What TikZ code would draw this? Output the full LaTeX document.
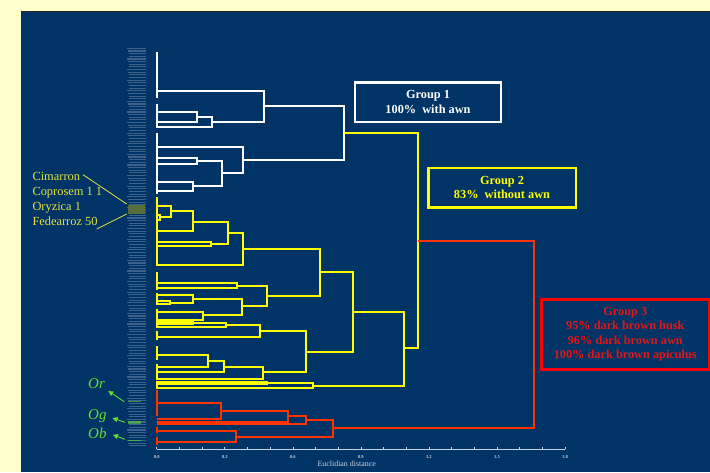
\documentclass[tikz,border=0pt]{standalone}
\usepackage{fontspec}
\setmainfont{Liberation Serif}
\usetikzlibrary{arrows.meta}
\definecolor{bgyel}{RGB}{255,255,204}
\definecolor{panel}{RGB}{0,51,102}
\definecolor{dyel}{RGB}{255,255,0}
\definecolor{dred}{RGB}{255,51,0}
\definecolor{gred}{RGB}{228,22,22}
\definecolor{bred}{RGB}{255,0,0}
\definecolor{lgreen}{RGB}{102,221,51}
\definecolor{labyel}{RGB}{228,228,60}
\definecolor{axisc}{RGB}{205,212,225}
\definecolor{olivelab}{RGB}{88,110,62}
\begin{document}
\begin{tikzpicture}[x=1pt,y=-1pt,
  wl/.style={white,line width=2pt},
  yl/.style={dyel,line width=2pt},
  rl/.style={dred,line width=2pt},
  gbox/.style={line width=2.4pt,align=center,font=\fontsize{12.3}{14.6}\selectfont\bfseries,inner sep=0pt},
  lab/.style={anchor=base west,text=labyel,font=\fontsize{12.4}{14}\selectfont,inner sep=0pt},
  sp/.style={anchor=base west,text=lgreen,font=\fontsize{15}{16}\selectfont\itshape,inner sep=0pt},
  sparrow/.style={lgreen,line width=0.9pt,-{Triangle[width=5pt,length=5pt]}},
  ticklab/.style={text=axisc,font=\fontsize{4.6}{5}\selectfont\bfseries,inner sep=0pt}]
\useasboundingbox (0,0) rectangle (710,472);
\fill[bgyel] (0,0) rectangle (710,472);
\fill[panel] (21,11) rectangle (710,472);
\draw[black!85,line width=1pt] (21.5,472) -- (21.5,11.5) -- (710,11.5);

% leaf label column
\foreach \i in {0,...,150} {
  \pgfmathsetmacro\s{127+mod(\i*5,4)*0.8}
  \fill[white,opacity=0.24] (\s,47.8+\i*2.65) rectangle (145.5,48.9+\i*2.65);
}
\fill[olivelab] (128,204.5) rectangle (145,214);
\fill[lgreen,opacity=0.55] (128,401) rectangle (141,402.3);
\fill[lgreen,opacity=0.55] (128,421.2) rectangle (141,423.8);
\fill[lgreen,opacity=0.55] (128,439.5) rectangle (141,440.8);

% ---------------- white cluster
\draw[wl] (157,51.7) -- (157,98);
\draw[wl] (157,104) -- (157,128);
\draw[wl] (157,133) -- (157,194);
\draw[wl] (157,90.7) -- (264,90.7) -- (264,121.5) -- (212.3,121.5);
\draw[wl] (157,111.7) -- (197.3,111.7) -- (197.3,122) -- (157,122);
\draw[wl] (197.3,117) -- (212.3,117) -- (212.3,126.7) -- (157,126.7);
\draw[wl] (264,106) -- (344,106) -- (344,160) -- (243.3,160);
\draw[wl] (157,146.7) -- (243.3,146.7) -- (243.3,172.7) -- (221.7,172.7);
\draw[wl] (157,157.7) -- (197.3,157.7) -- (197.3,164) -- (157,164);
\draw[wl] (197.3,161) -- (221.7,161) -- (221.7,185.7) -- (193.3,185.7);
\draw[wl] (157,181.7) -- (193.3,181.7) -- (193.3,190.7) -- (157,190.7);

% ---------------- yellow cluster
\draw[yl] (344,133) -- (418.3,133) -- (418.3,348.3) -- (404.3,348.3);
\draw[yl] (157,197) -- (157,266);
\draw[yl] (157,272) -- (157,290);
\draw[yl] (157,293) -- (157,305);
\draw[yl] (157,309) -- (157,328);
\draw[yl] (157,331) -- (157,340);
\draw[yl] (157,346) -- (157,360);
\draw[yl] (157,364) -- (157,380);
\draw[yl] (157,381) -- (157,389);
\draw[yl] (352.7,311.7) -- (404.3,311.7) -- (404.3,386) -- (313.3,386);
\draw[yl] (320,271.7) -- (352.7,271.7) -- (352.7,351.7) -- (305.7,351.7);
\draw[yl] (242.7,249) -- (320,249) -- (320,296.3) -- (266.7,296.3);
\draw[yl] (228.3,232.7) -- (242.7,232.7) -- (242.7,265) -- (157,265);
\draw[yl] (193.3,221.7) -- (228.3,221.7) -- (228.3,243.8) -- (211,243.8);
\draw[yl] (157,241.7) -- (211,241.7) -- (211,246) -- (157,246);
\draw[yl] (170.7,211) -- (193.3,211) -- (193.3,231) -- (157,231);
\draw[yl] (157,205.7) -- (170.7,205.7) -- (170.7,217.3) -- (160,217.3);
\draw[yl] (157,214.5) -- (160,214.5) -- (160,220) -- (157,220);
\draw[yl] (236.7,285.7) -- (266.7,285.7) -- (266.7,306) -- (241.7,306);
\draw[yl] (157,283.3) -- (236.7,283.3) -- (236.7,288.3) -- (157,288.3);
\draw[yl] (193.3,299) -- (241.7,299) -- (241.7,315) -- (203.3,315);
\draw[yl] (157,295) -- (193.3,295) -- (193.3,302.7) -- (170,302.7);
\draw[yl] (157,301) -- (170,301) -- (170,304.2) -- (157,304.2);
\draw[yl] (157,311.7) -- (203.3,311.7) -- (203.3,320) -- (157,320);
\draw[yl] (260,331.2) -- (305.7,331.2) -- (305.7,372.3) -- (263.3,372.3);
\draw[yl] (157,321.7) -- (193.3,321.7) -- (193.3,323.7) -- (157,323.7);
\draw[yl] (193.3,322.7) -- (226,322.7) -- (226,327.3) -- (157,327.3);
\draw[yl] (226,325) -- (260,325) -- (260,337.3) -- (157,337.3);
\draw[yl] (224.3,366.7) -- (263.3,366.7) -- (263.3,378.7) -- (157,378.7);
\draw[yl] (208.3,361) -- (224.3,361) -- (224.3,372) -- (157,372);
\draw[yl] (157,355) -- (208.3,355) -- (208.3,366.7) -- (157,366.7);
\draw[yl] (157,382.3) -- (266.7,382.3) -- (266.7,384.3) -- (157,384.3);
\draw[yl] (266.7,383.3) -- (313.3,383.3) -- (313.3,388.3) -- (157,388.3);

% ---------------- red cluster
\draw[rl] (418.3,240.7) -- (534.3,240.7) -- (534.3,428.3) -- (332.7,428.3);
\draw[rl] (156.5,390) -- (156.5,416);
\draw[rl] (156.5,427) -- (156.5,433);
\draw[rl] (156.5,437) -- (156.5,445);
\draw[rl] (157,402.7) -- (221,402.7) -- (221,419) -- (157,419);
\draw[rl] (221,411) -- (288.3,411) -- (288.3,421.5) -- (157,421.5);
\draw[rl] (288.3,416) -- (305.7,416) -- (305.7,424) -- (157,424);
\draw[rl] (305.7,420) -- (332.7,420) -- (332.7,436.7) -- (236,436.7);
\draw[rl] (157,430.7) -- (236,430.7) -- (236,442.3) -- (157,442.3);

% ---------------- axis
\draw[axisc,line width=0.8pt] (156.7,449.3) -- (565,449.3);
\foreach \i in {0,...,18} {
  \draw[axisc,line width=0.6pt] (156.7+\i*22.683,449.3) -- (156.7+\i*22.683,446.5);
}
\foreach \v/\t in {0/0.0,3/0.3,6/0.6,9/0.9,12/1.2,15/1.5,18/1.8} {
  \node[ticklab] (t\v) at (156.7+\v*22.683,457.3) {\t};
}
\node[text=axisc,font=\fontsize{7.9}{9}\selectfont,inner sep=0pt] (xlab) at (346.7,463.3) {Euclidian distance};

% ---------------- group boxes
\node[gbox,draw=white,text=white,minimum width=146pt,minimum height=39.4pt] (g1) at (428,102) {Group 1\\100\%~~with awn};
\node[gbox,draw=dyel,text=dyel,minimum width=147.4pt,minimum height=39.6pt] (g2) at (502,187.5) {Group 2\\83\%~~without awn};
\node[gbox,draw=bred,text=gred,minimum width=167.3pt,minimum height=70pt] (g3) at (625.3,334.3) {Group 3\\95\% dark brown husk\\96\% dark brown awn\\100\% dark brown apiculus};

% ---------------- variety labels
\node[lab] (cim) at (32.3,180) {Cimarron};
\node[lab] (cop) at (32.3,195) {Coprosem 1 1};
\node[lab] (ory) at (32.3,210) {Oryzica 1};
\node[lab] (fed) at (32.3,225) {Fedearroz 50};
\coordinate (cimA) at (83,174.7);
\coordinate (cimB) at (126.7,204);
\coordinate (fedA) at (96.7,229);
\coordinate (fedB) at (126.7,214);
\draw[labyel,line width=0.8pt] (cimA) -- (cimB);
\draw[labyel,line width=0.8pt] (fedA) -- (fedB);

% ---------------- species labels
\node[sp] (or) at (88,388.3) {Or};
\node[sp] (og) at (88,419.5) {Og};
\node[sp] (ob) at (88,438.3) {Ob};
\coordinate (orA) at (124.3,401.7);
\coordinate (orB) at (108.3,391);
\coordinate (ogA) at (125,422.3);
\coordinate (ogB) at (112.5,418);
\coordinate (obA) at (125,439.3);
\coordinate (obB) at (113,434.8);
\draw[sparrow] (orA) -- (orB);
\draw[sparrow] (ogA) -- (ogB);
\draw[sparrow] (obA) -- (obB);
\end{tikzpicture}
\end{document}
